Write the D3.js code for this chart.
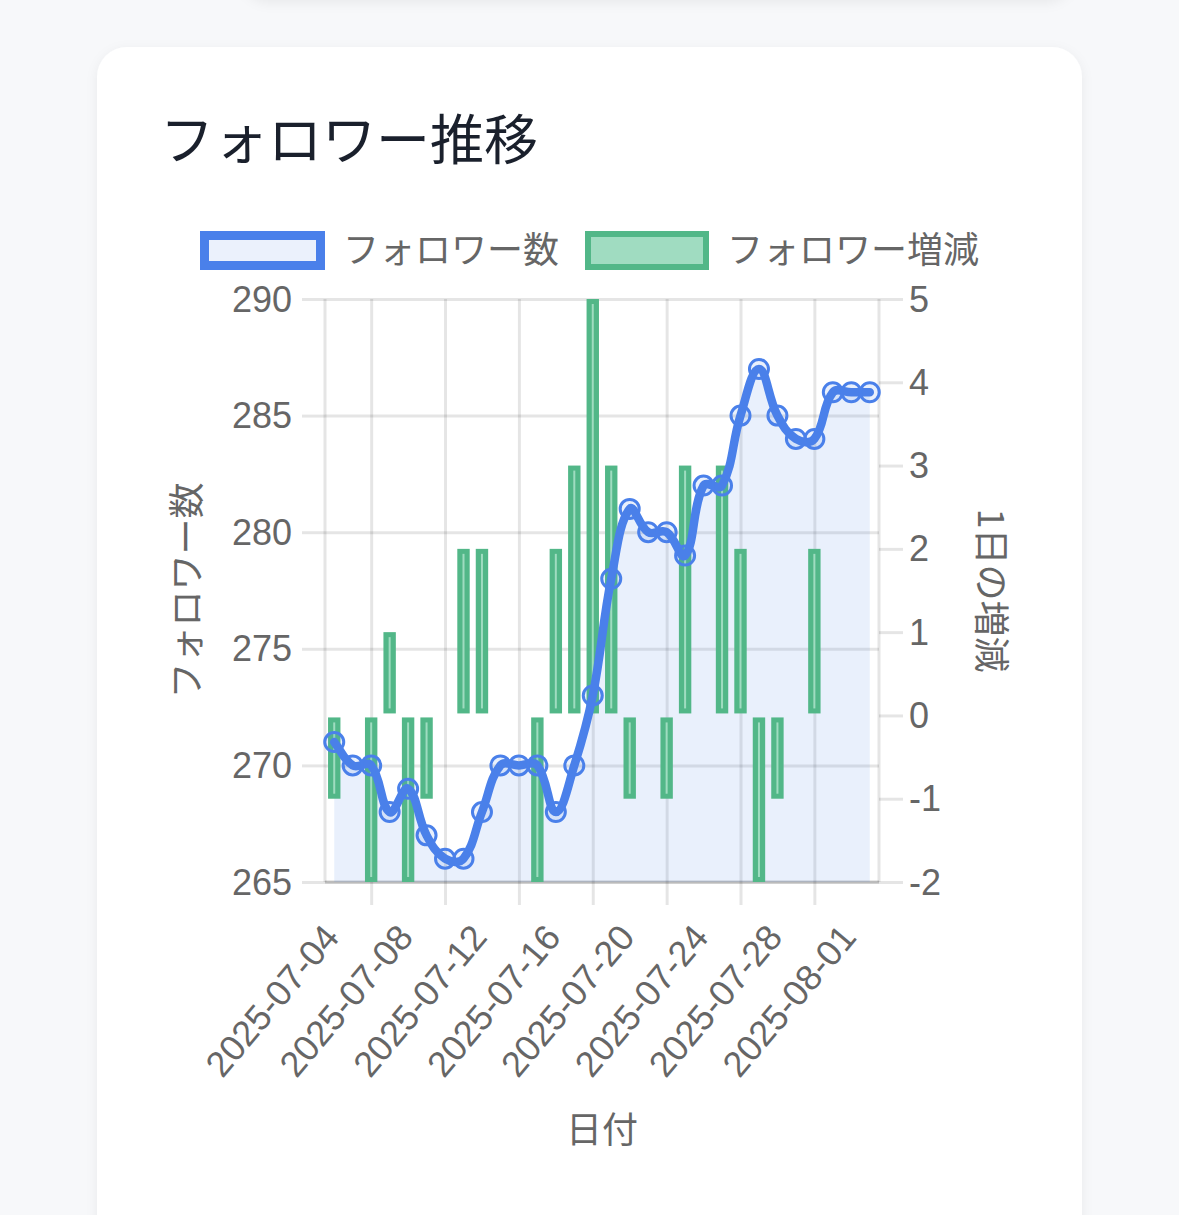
<!DOCTYPE html>
<html><head><meta charset="utf-8">
<script src="https://cdn.jsdelivr.net/npm/d3@7/dist/d3.min.js"></script>
<style>
html,body{margin:0;padding:0;background:#f7f8fa;}
svg{display:block;}
</style></head>
<body>
<svg id="c" width="1179" height="1215"></svg>
<script>
// ---- data ----
const dates = ["2025-07-04","2025-07-05","2025-07-06","2025-07-07","2025-07-08","2025-07-09","2025-07-10","2025-07-11","2025-07-12","2025-07-13",
"2025-07-14","2025-07-15","2025-07-16","2025-07-17","2025-07-18","2025-07-19","2025-07-20","2025-07-21","2025-07-22","2025-07-23",
"2025-07-24","2025-07-25","2025-07-26","2025-07-27","2025-07-28","2025-07-29","2025-07-30","2025-07-31","2025-08-01","2025-08-02"];
const followers = [271,270,270,268,269,267,266,266,268,270,270,270,268,270,273,278,281,280,280,279,282,282,285,287,285,284,284,286,286,286];
const changes = [-1,0,-2,1,-2,-1,0,2,2,0,0,-2,2,3,5,3,-1,0,-1,3,0,3,2,-2,-1,0,2,0,0,0];
const xTickLabels = ["2025-07-04","2025-07-08","2025-07-12","2025-07-16","2025-07-20","2025-07-24","2025-07-28","2025-08-01"];
const yLeftTicks = [265,270,275,280,285,290];
const yRightTicks = [-2,-1,0,1,2,3,4,5];
const title = "フォロワー推移";
const legendLabels = ["フォロワー数","フォロワー増減"];
const yLeftTitle = "フォロワー数";
const yRightTitle = "1日の増減";
const xTitle = "日付";

// ---- styles ----
const FONT = "'Liberation Sans','Helvetica Neue',Arial,'Noto Sans CJK JP',sans-serif";
const CJK = "'Noto Sans CJK JP','Liberation Sans',sans-serif";
const BLUE = "#4a80ea", BLUE_FILL = "rgba(74,128,234,0.12)";
const GREEN = "#52b788";
const GRID = "rgba(0,0,0,0.1)", TXT = "#666";

const svg = d3.select("#c");
const defs = svg.append("defs");
const f = defs.append("filter").attr("id","sh").attr("x","-10%").attr("y","-10%").attr("width","120%").attr("height","130%");
f.append("feDropShadow").attr("dx",0).attr("dy",3).attr("stdDeviation",6).attr("flood-color","#000").attr("flood-opacity",0.06);

// top card remnant
svg.append("rect").attr("x",240).attr("y",-100).attr("width",835).attr("height",100).attr("rx",30)
  .attr("fill","#fff").attr("filter","url(#sh)");
// main card
svg.append("rect").attr("x",97).attr("y",47).attr("width",985).attr("height",1260).attr("rx",30)
  .attr("fill","#fff").attr("filter","url(#sh)");

svg.append("text").attr("x",160).attr("y",160).attr("font-family",CJK).attr("font-size",54)
  .attr("fill","#1a202c").text(title);

// ---- scales ----
const parse = d3.utcParse("%Y-%m-%d");
const dayMs = 864e5;
const L = 325, R = 879, T = 299, B = 882;
const x = d3.scaleUtc().domain([new Date(+parse(dates[0]) - dayMs/2), new Date(+parse(dates[dates.length-1]) + dayMs/2)]).range([L,R]);
const y = d3.scaleLinear().domain([265,290]).range([B,T]);
const y2 = d3.scaleLinear().domain([-2,5]).range([B,T]);

const g = svg.append("g");

// grid: horizontal (left axis)
g.append("g").attr("transform",`translate(${L},0)`).call(d3.axisLeft(y).tickValues(yLeftTicks).tickSize(-(R-L)).tickFormat(""))
  .call(s=>{s.select(".domain").remove(); s.selectAll("line").attr("stroke",GRID).attr("stroke-width",3);});
g.append("g").attr("transform",`translate(${L},0)`).call(d3.axisLeft(y).tickValues(yLeftTicks).tickSize(23).tickFormat(""))
  .call(s=>{s.select(".domain").remove(); s.selectAll("line").attr("stroke",GRID).attr("stroke-width",3);});
g.append("g").attr("transform",`translate(${R},0)`).call(d3.axisRight(y2).tickValues(yRightTicks).tickSize(24).tickFormat(""))
  .call(s=>{s.select(".domain").remove(); s.selectAll("line").attr("stroke",GRID).attr("stroke-width",3);});
const gridDates = xTickLabels.map(d => new Date(+parse(d) - 2*dayMs)).filter(d => x(d) > L+1);
g.append("g").attr("transform",`translate(0,${B})`).call(d3.axisBottom(x).tickValues(gridDates).tickSize(-(B-T)).tickFormat(""))
  .call(s=>{s.select(".domain").remove(); s.selectAll("line").attr("stroke",GRID).attr("stroke-width",3);});
g.append("g").attr("transform",`translate(0,${B})`).call(d3.axisBottom(x).tickValues(gridDates).tickSize(23).tickFormat(""))
  .call(s=>{s.select(".domain").remove(); s.selectAll("line").attr("stroke",GRID).attr("stroke-width",3);});
g.append("line").attr("x1",L).attr("x2",L).attr("y1",T).attr("y2",B).attr("stroke",GRID).attr("stroke-width",3);
g.append("line").attr("x1",R).attr("x2",R).attr("y1",T).attr("y2",B).attr("stroke",GRID).attr("stroke-width",3);
g.append("line").attr("x1",L).attr("x2",R).attr("y1",B).attr("y2",B).attr("stroke","rgba(0,0,0,0.18)").attr("stroke-width",3);

// ---- line points & Chart.js-like spline ----
const pts = dates.map((d,i)=>({x:x(parse(d)), y:y(followers[i])}));
function splinePath(p, t){
  const cps = p.map((c,i)=>{
    const prev = p[i-1]||c, next = p[i+1]||c;
    const d01 = Math.hypot(c.x-prev.x,c.y-prev.y), d12 = Math.hypot(next.x-c.x,next.y-c.y);
    let s01 = d01/(d01+d12), s12 = d12/(d01+d12);
    if(isNaN(s01)) s01=0; if(isNaN(s12)) s12=0;
    const fa=t*s01, fb=t*s12;
    return {px:c.x-fa*(next.x-prev.x), py:c.y-fa*(next.y-prev.y), nx:c.x+fb*(next.x-prev.x), ny:c.y+fb*(next.y-prev.y)};
  });
  let s = `M${p[0].x},${p[0].y}`;
  for(let i=1;i<p.length;i++){
    s += `C${cps[i-1].nx},${cps[i-1].ny} ${cps[i].px},${cps[i].py} ${p[i].x},${p[i].y}`;
  }
  return s;
}
const linePath = splinePath(pts, 0.4);
g.append("path").attr("d", linePath + `L${pts[pts.length-1].x},${B}L${pts[0].x},${B}Z`).attr("fill",BLUE_FILL);

// ---- bars ----
const bw = 12.4;
const bars = g.append("g");
changes.forEach((v,i)=>{
  if(v===0) return;
  const cx = x(parse(dates[i]));
  const y0 = y2(0) + (v>0 ? -2 : 2), y1 = y2(v);
  const top = Math.min(y0,y1), h = Math.abs(y1-y0);
  bars.append("rect").attr("x",cx-bw/2).attr("y",top).attr("width",bw).attr("height",h).attr("fill",GREEN);
  bars.append("rect").attr("x",cx-1).attr("y",top+5).attr("width",2).attr("height",Math.max(0,h-10)).attr("fill","#9fdcc0");
});

// line + points
g.append("path").attr("d",linePath).attr("fill","none").attr("stroke",BLUE).attr("stroke-width",8.5)
  .attr("stroke-linejoin","round").attr("stroke-linecap","round");
g.append("g").selectAll("circle").data(pts).join("circle")
  .attr("cx",d=>d.x).attr("cy",d=>d.y).attr("r",9.5).attr("fill","rgba(74,128,234,0.12)").attr("stroke",BLUE).attr("stroke-width",3);

// ---- tick labels ----
const lab = svg.append("g").attr("font-family",FONT).attr("font-size",36).attr("fill",TXT);
lab.selectAll(".yl").data(yLeftTicks).join("text").attr("x",292).attr("y",d=>y(d)).attr("dy","0.35em")
  .attr("text-anchor","end").text(d=>d);
lab.selectAll(".yr").data(yRightTicks).join("text").attr("x",909).attr("y",d=>y2(d)).attr("dy","0.35em")
  .attr("text-anchor","start").text(d=>d);
lab.selectAll(".xl").data(xTickLabels).join("text")
  .attr("transform",d=>`translate(${x(parse(d))-3},${930}) rotate(-50)`)
  .attr("text-anchor","end").attr("dy","0.35em").text(d=>d);

// axis titles
const at = svg.append("g").attr("font-family",CJK).attr("font-size",36).attr("fill",TXT).attr("text-anchor","middle");
at.append("text").attr("transform",`translate(200,${(T+B)/2}) rotate(-90)`).text(yLeftTitle);
at.append("text").attr("transform",`translate(978,${(T+B)/2}) rotate(90)`).text(yRightTitle);
at.append("text").attr("x",(L+R)/2).attr("y",1143).text(xTitle);

// ---- legend ----
const lg = svg.append("g");
lg.append("rect").attr("x",204.5).attr("y",235.5).attr("width",116).attr("height",30).attr("fill","#ebf1fc").attr("stroke",BLUE).attr("stroke-width",9);
lg.append("text").attr("x",343).attr("y",263).attr("font-family",CJK).attr("font-size",36).attr("fill",TXT).text(legendLabels[0]);
lg.append("rect").attr("x",588).attr("y",234).attr("width",118).attr("height",33).attr("fill","#a0dcc1").attr("stroke",GREEN).attr("stroke-width",6);
lg.append("text").attr("x",727).attr("y",263).attr("font-family",CJK).attr("font-size",36).attr("fill",TXT).text(legendLabels[1]);
</script>
</body></html>
